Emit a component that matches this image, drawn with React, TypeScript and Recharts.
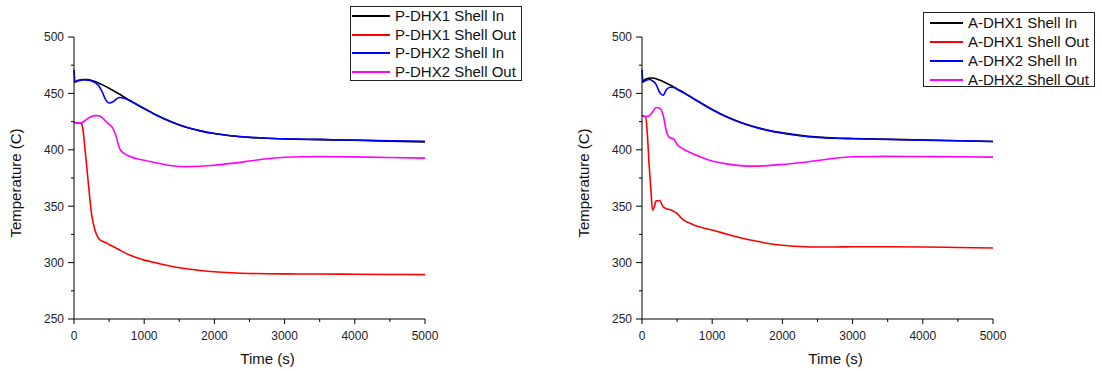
import { Label, Legend, Line, LineChart, XAxis, YAxis } from "recharts";

// time axis (s) and temperatures (C)
const timesP = [
  0, 15, 50, 100, 125, 150, 200, 250, 300, 350, 400, 450, 500, 550, 600, 650, 700, 800, 900, 1000,
  1200, 1400, 1600, 1800, 2000, 2250, 2500, 2750, 3000, 3500, 4000, 4500, 5000
];
const pDhx1ShellIn = [
  460, 460.5, 461.5, 462, 462.2, 462.3, 462.2, 461.5, 460.5, 459.2, 457.8, 456.2, 454.5, 452.8, 451, 449.2, 447.3,
  443.5, 440, 436.6, 430, 424.5, 420, 416.8, 414.4, 412.3, 411, 410.2, 409.6, 409, 408.4, 407.7, 407
];
const pDhx1ShellOut = [
  424.5, 424, 423.8, 423.5, 419, 405, 373, 343, 328.5, 321.5, 319, 317.8, 316, 314.5, 312.8, 311.2, 309.5, 306.5,
  304.2, 302.2, 299.3, 296.6, 294.5, 293, 291.9, 291, 290.4, 290.1, 290, 289.9, 289.7, 289.5, 289.3
];
const pDhx2ShellIn = [
  471, 460, 461, 461.8, 462, 462, 461.8, 461, 459.5, 457, 451.5, 444.5, 441.5, 442.3, 444.8, 446.3, 446, 443.5,
  439.9, 436.5, 429.9, 424.4, 419.9, 416.8, 414.4, 412.4, 411.1, 410.3, 409.8, 409.2, 408.6, 408, 407.5
];
const pDhx2ShellOut = [
  424.5, 424, 423.8, 424, 424.6, 425.5, 427.8, 429.5, 430.3, 430.2, 428.5, 425.5, 422.5, 419.5, 412, 401, 397.5,
  394, 392, 390.8, 388, 385.8, 385, 385.4, 386.3, 388, 390, 392, 393.4, 394, 393.7, 393.2, 392.6
];

const timesA = [
  0, 15, 50, 75, 100, 125, 150, 175, 200, 250, 300, 350, 400, 450, 500, 550, 600, 700, 800, 900, 1000, 1200,
  1400, 1600, 1800, 2000, 2250, 2500, 2750, 3000, 3500, 4000, 4500, 5000
];
const aDhx1ShellIn = [
  460, 461, 462.5, 463.2, 463.5, 463.7, 463.7, 463.5, 463, 461.8, 460.5, 459, 457.5, 455.8, 454, 452.3, 450.5,
  446.8, 443, 439.3, 435.8, 429.5, 424.5, 420.5, 417.3, 415, 412.8, 411.3, 410.4, 410, 409.3, 408.7, 408, 407.3
];
const aDhx1ShellOut = [
  430.6, 430, 429.5, 415, 388, 366, 346.5, 349.5, 354.5, 355, 349.5, 347.8, 347, 345.5, 343.5, 340, 337.5, 334.5,
  332, 330.3, 328.9, 325.3, 322, 319.3, 317, 315.4, 314.3, 313.8, 313.8, 314, 314, 313.8, 313.4, 313
];
const aDhx2ShellIn = [
  471, 460, 461.5, 462, 462.3, 462, 461, 460, 458, 451, 448.3, 453.5, 455.5, 455.3, 453.6, 451.9, 450.2, 446.5,
  442.7, 439, 435.5, 429.2, 424.2, 420.2, 417, 414.7, 412.5, 411, 410.2, 409.8, 409.2, 408.6, 408, 407.4
];
const aDhx2ShellOut = [
  430.6, 430, 429.5, 429.6, 430, 431.5, 433.5, 435.8, 437.5, 437, 431, 416, 410.5, 409.8, 404.8, 402.2, 400.3,
  397.2, 394.5, 392, 390, 387.5, 386, 385.5, 386, 387, 388.5, 390.5, 392.5, 393.8, 394.2, 394, 393.8, 393.5
];

const pNames = ["P-DHX1 Shell In", "P-DHX1 Shell Out", "P-DHX2 Shell In", "P-DHX2 Shell Out"];
const aNames = ["A-DHX1 Shell In", "A-DHX1 Shell Out", "A-DHX2 Shell In", "A-DHX2 Shell Out"];
const colors = ["#000000", "#ff0000", "#0000ff", "#ff00ff"];

const xTicks = [0, 500, 1000, 1500, 2000, 2500, 3000, 3500, 4000, 4500, 5000];
const yTicks = [250, 275, 300, 325, 350, 375, 400, 425, 450, 475, 500];

const FONT = '"Liberation Sans", Arial, sans-serif';

function buildRows(times: number[], series: number[][]) {
  return times.map((t, i) => {
    const row: Record<string, number> = { t };
    series.forEach((s, k) => {
      row[`s${k}`] = s[i];
    });
    return row;
  });
}

function XTick({ x, y, payload }: any) {
  const major = payload.value % 1000 === 0;
  return (
    <g>
      <line x1={x} y1={y} x2={x} y2={y + (major ? 5 : 3)} stroke="#000" />
      {major && (
        <text x={x} y={y + 21} textAnchor="middle" fontSize={12} fill="#222" fontFamily={FONT}>
          {payload.value}
        </text>
      )}
    </g>
  );
}

function YTick({ x, y, payload }: any) {
  const major = payload.value % 50 === 0;
  return (
    <g>
      <line x1={x - (major ? 6 : 3)} y1={y} x2={x} y2={y} stroke="#000" />
      {major && (
        <text x={x - 10} y={y + 4.3} textAnchor="end" fontSize={12} fill="#222" fontFamily={FONT}>
          {payload.value}
        </text>
      )}
    </g>
  );
}

type LegendBoxProps = {
  payload?: any[];
  lineInset: number;
  lineLength: number;
  firstRow: number;
  rowHeight: number;
};

function LegendBox({ payload = [], lineInset, lineLength, firstRow, rowHeight }: LegendBoxProps) {
  return (
    <div
      style={{
        position: "relative",
        boxSizing: "border-box",
        width: "100%",
        height: "100%",
        border: "1px solid #222",
        background: "#fff"
      }}
    >
      {payload.map((item, i) => {
        const cy = Math.round(firstRow + i * rowHeight);
        return (
          <div key={item.value}>
            <div
              style={{
                position: "absolute",
                left: lineInset,
                top: cy - 1,
                width: lineLength,
                height: 2,
                background: item.color
              }}
            />
            <span
              style={{
                position: "absolute",
                left: lineInset + lineLength + 5,
                top: cy - 9,
                lineHeight: "18px",
                fontSize: 15,
                fontFamily: FONT,
                color: "#111",
                whiteSpace: "nowrap"
              }}
            >
              {item.value}
            </span>
          </div>
        );
      })}
    </div>
  );
}

type PanelProps = {
  left: number;
  width: number;
  rightMargin: number;
  rows: Record<string, number>[];
  names: string[];
  legendPos: { left: number; top: number; width: number; height: number };
  lineInset: number;
  lineLength: number;
  firstRow: number;
  rowHeight: number;
};

function Panel({ left, width, rightMargin, rows, names, legendPos, lineInset, lineLength, firstRow, rowHeight }: PanelProps) {
  return (
    <div style={{ position: "absolute", left, top: 0 }}>
      <LineChart width={width} height={371} data={rows} margin={{ top: 37, right: rightMargin, bottom: 22, left: 14 }}>
        <XAxis
          dataKey="t"
          type="number"
          domain={[0, 5000]}
          ticks={xTicks}
          interval={0}
          height={30}
          tickSize={0}
          tickMargin={0}
          tickLine={false}
          axisLine={{ stroke: "#000" }}
          tick={<XTick />}
        >
          <Label
            content={({ viewBox }: any) => (
              <text
                x={viewBox.x + viewBox.width / 2 + 18}
                y={viewBox.y + 39}
                textAnchor="middle"
                dominantBaseline="central"
                fontSize={15}
                fill="#111"
                fontFamily={FONT}
              >
                Time (s)
              </text>
            )}
          />
        </XAxis>
        <YAxis
          type="number"
          domain={[250, 500]}
          ticks={yTicks}
          interval={0}
          width={60}
          tickSize={0}
          tickMargin={0}
          tickLine={false}
          axisLine={{ stroke: "#000" }}
          tick={<YTick />}
        >
          <Label
            content={({ viewBox }: any) => {
              const cx = viewBox.x + 1;
              const cy = viewBox.y + viewBox.height / 2 + 5;
              return (
                <text
                  x={cx}
                  y={cy}
                  transform={`rotate(-90, ${cx}, ${cy})`}
                  textAnchor="middle"
                  dominantBaseline="central"
                  fontSize={15}
                  fill="#111"
                  fontFamily={FONT}
                >
                  Temperature (C)
                </text>
              );
            }}
          />
        </YAxis>
        <Legend
          layout="vertical"
          align="center"
          verticalAlign="middle"
          wrapperStyle={{ position: "absolute", ...legendPos }}
          content={(props: any) => (
            <LegendBox
              payload={props.payload}
              lineInset={lineInset}
              lineLength={lineLength}
              firstRow={firstRow}
              rowHeight={rowHeight}
            />
          )}
        />
        {names.map((name, k) => (
          <Line
            key={name}
            dataKey={`s${k}`}
            name={name}
            type="monotone"
            stroke={colors[k]}
            strokeWidth={1.6}
            dot={false}
            isAnimationActive={false}
          />
        ))}
      </LineChart>
    </div>
  );
}

export default function App() {
  const pRows = buildRows(timesP, [pDhx1ShellIn, pDhx1ShellOut, pDhx2ShellIn, pDhx2ShellOut]);
  const aRows = buildRows(timesA, [aDhx1ShellIn, aDhx1ShellOut, aDhx2ShellIn, aDhx2ShellOut]);

  return (
    <div style={{ position: "absolute", left: 0, top: 0, width: 1102, height: 371, background: "#fff", overflow: "hidden" }}>
      <Panel
        left={0}
        width={551}
        rightMargin={126}
        rows={pRows}
        names={pNames}
        legendPos={{ left: 350, top: 6, width: 172, height: 75 }}
        lineInset={1}
        lineLength={38}
        firstRow={9}
        rowHeight={18.6}
      />
      <Panel
        left={568}
        width={534}
        rightMargin={109}
        rows={aRows}
        names={aNames}
        legendPos={{ left: 355, top: 12, width: 172, height: 75 }}
        lineInset={6}
        lineLength={33}
        firstRow={10}
        rowHeight={18.9}
      />
    </div>
  );
}
